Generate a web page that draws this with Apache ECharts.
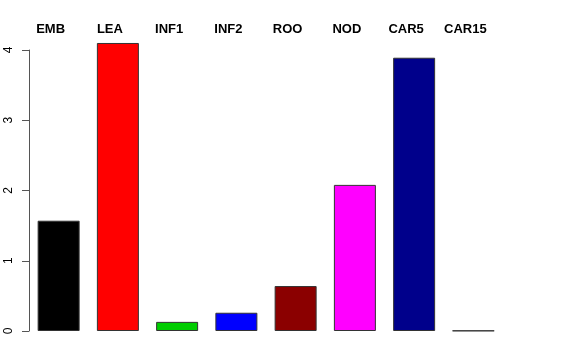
<!DOCTYPE html>
<html>
<head>
<meta charset="utf-8">
<script src="https://cdn.jsdelivr.net/npm/echarts@6/dist/echarts.min.js"></script>
<style>html,body{margin:0;padding:0;background:#fff}#c{width:576px;height:360px}</style>
</head>
<body>
<div id="c"></div>
<script>
const categories = ['EMB', 'LEA', 'INF1', 'INF2', 'ROO', 'NOD', 'CAR5', 'CAR15'];
const values = [1.57, 4.10, 0.13, 0.26, 0.64, 2.08, 3.89, 0.005];
const colors = ['#000000', '#FF0000', '#00CD00', '#0000FF', '#8B0000', '#FF00FF', '#00008B', '#FFFFFF'];
const yTicks = [0, 1, 2, 3, 4];

const chart = echarts.init(document.getElementById('c'), null, {renderer: 'canvas'});
chart.setOption({
  animation: false,
  backgroundColor: '#ffffff',
  grid: {left: 29, right: 73, top: 50, bottom: 29, containLabel: false},
  xAxis: {
    type: 'category',
    data: categories,
    position: 'top',
    axisLine: {show: false},
    axisTick: {show: false},
    axisLabel: {
      show: true, interval: 0, margin: 14,
      fontFamily: 'Liberation Sans', fontWeight: 'bold', fontSize: 13, color: '#000',
      padding: [0, 16, 0, 0]
    }
  },
  yAxis: {
    type: 'value',
    min: yTicks[0], max: yTicks[yTicks.length - 1], interval: 1,
    splitLine: {show: false},
    axisLine: {show: true, lineStyle: {color: '#555', width: 1}},
    axisTick: {show: true, length: 7, lineStyle: {color: '#555'}},
    axisLabel: {
      rotate: 90, margin: 14,
      fontFamily: 'Liberation Sans', fontSize: 12, color: '#000'
    }
  },
  series: [{
    type: 'bar',
    clip: false,
    barWidth: 42,
    data: values.map((v, i) => ({value: v, itemStyle: {color: colors[i]}})),
    itemStyle: {borderColor: '#333', borderWidth: 1}
  }]
});
</script>
</body>
</html>
